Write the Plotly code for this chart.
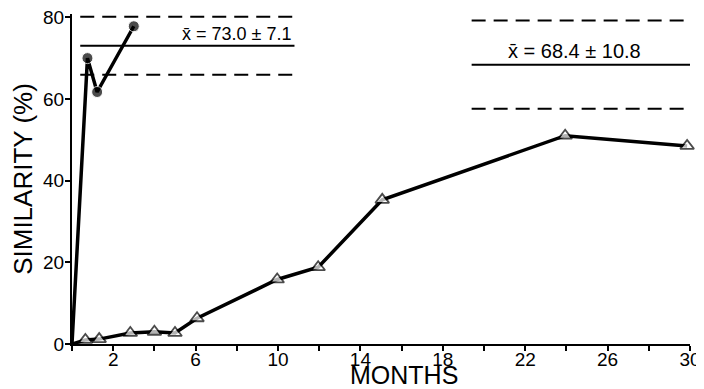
import plotly.graph_objects as go

# Data
circle_months = [0, 0.75, 1.22, 3.0]
circle_sim = [0, 70.0, 61.7, 77.8]

tri_months = [0, 0.65, 1.32, 2.83, 4.0, 5.0, 6.07, 9.96, 11.95, 15.06, 23.94, 29.86]
tri_sim = [0, 1.0, 1.2, 2.7, 3.0, 2.7, 6.3, 15.8, 18.8, 35.3, 51.0, 48.5]

# Means and SDs, with the x-extent of each reference band
left_mean, left_sd = 73.0, 7.1
left_span = [0.4, 10.8]
right_mean, right_sd = 68.4, 10.8
right_span = [19.4, 30.0]

x_tickvals = list(range(0, 31, 2))
x_ticklabels = ["", "2", "", "6", "", "10", "", "14", "", "18", "", "22", "", "26", "", "30"]
y_tickvals = [0, 20, 40, 60, 80]

FONT = "Liberation Sans, Arial, sans-serif"

fig = go.Figure()

fig.add_trace(go.Scatter(
    x=tri_months, y=tri_sim, mode="lines+markers",
    line=dict(color="black", width=3.5),
    marker=dict(symbol="triangle-up", size=[0] + [12] * (len(tri_months) - 1),
                color="white", line=dict(color="black", width=1.8)),
    showlegend=False, cliponaxis=False,
))
fig.add_trace(go.Scatter(
    x=circle_months, y=circle_sim, mode="lines+markers",
    line=dict(color="black", width=3.5),
    marker=dict(symbol="circle", size=[0] + [11] * (len(circle_months) - 1), color="black"),
    showlegend=False, cliponaxis=False,
))

for mean, sd, span in [(left_mean, left_sd, left_span), (right_mean, right_sd, right_span)]:
    fig.add_shape(type="line", x0=span[0], x1=span[1], y0=mean, y1=mean,
                  xref="x", yref="y", line=dict(color="black", width=2))
    for v in (mean + sd, mean - sd):
        fig.add_shape(type="line", x0=span[0], x1=span[1], y0=v, y1=v,
                      xref="x", yref="y", line=dict(color="black", width=2, dash="14px,8px"))

fig.add_annotation(x=8.0, y=75.9, xref="x", yref="y", text="x\u0304 = 73.0 \u00b1 7.1",
                   showarrow=False, font=dict(size=18, color="black", family=FONT))
fig.add_annotation(x=24.4, y=71.7, xref="x", yref="y", text="x\u0304 = 68.4 \u00b1 10.8",
                   showarrow=False, font=dict(size=20, color="black", family=FONT))
fig.add_annotation(x=16.1, xref="x", y=0, yref="paper", yshift=-31, yanchor="middle",
                   text="MONTHS", showarrow=False,
                   font=dict(size=25, color="black", family=FONT))

fig.update_xaxes(range=[0, 30], tickvals=x_tickvals, ticktext=x_ticklabels,
                 ticks="outside", ticklen=5, tickwidth=2, tickcolor="black",
                 showline=True, linecolor="black", linewidth=2,
                 showgrid=False, zeroline=False, automargin=False,
                 ticklabeloverflow="allow", ticklabelstandoff=-8,
                 tickfont=dict(size=19, color="black", family=FONT))
fig.update_yaxes(range=[0, 80.8], tickvals=y_tickvals,
                 ticks="outside", ticklen=5, tickwidth=2, tickcolor="black",
                 showline=True, linecolor="black", linewidth=2,
                 showgrid=False, zeroline=False, automargin=False,
                 ticklabeloverflow="allow", ticklabelstandoff=-3,
                 tickfont=dict(size=19, color="black", family=FONT),
                 title=dict(text="SIMILARITY (%)", standoff=6,
                            font=dict(size=26, color="black", family=FONT)))

# The page is offset by the body margin, so margins compensate for it
fig.update_layout(width=704, height=389, margin=dict(l=64, r=22, t=6, b=53),
                  plot_bgcolor="white", paper_bgcolor="white")

fig.write_html("out.html")
